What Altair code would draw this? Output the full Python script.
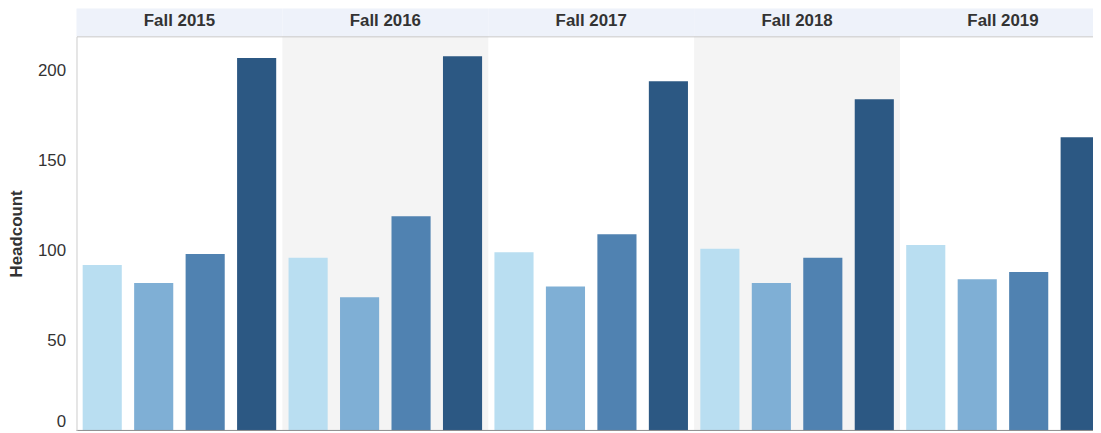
import altair as alt
import pandas as pd

years = ["Fall 2015", "Fall 2016", "Fall 2017", "Fall 2018", "Fall 2019"]
groups = ["Freshman", "Sophomore", "Junior", "Senior"]
freshman = [92, 96, 99, 101, 103]
sophomore = [82, 74, 80, 82, 84]
junior = [98, 119, 109, 96, 88]
senior = [207, 208, 194, 184, 163]
colors = ["#B9DEF1", "#7FAFD5", "#5082B1", "#2C5883"]

rows = []
for i, yr in enumerate(years):
    for g, vals in zip(groups, [freshman, sophomore, junior, senior]):
        rows.append({"year": yr, "group": g, "headcount": vals[i]})
df = pd.DataFrame(rows)
bg = pd.DataFrame({"year": years, "shade": [i % 2 == 1 for i in range(len(years))]})

W, H = 1024, 397
FONT = "Liberation Sans"

x_scale = alt.Scale(domain=years, range=[0, 1037], paddingInner=0, paddingOuter=0)
x_axis = alt.Axis(orient="top", title=None, ticks=False, labelPadding=7, labelFontSize=17,
                  labelFontWeight="bold", labelColor="#333333", domainColor="#C8C8C8",
                  labelAngle=0, zindex=1)
x_enc = alt.X("year:N", sort=years, scale=x_scale, axis=x_axis)

y_scale = alt.Scale(domain=[0, 219], nice=False)
y_axis = alt.Axis(title="Headcount", grid=False, ticks=False, labelPadding=11, labelFontSize=17,
                  labelColor="#333333", titleFontSize=17, titleFontWeight="bold",
                  titleColor="#333333", titlePadding=12, domainColor="#CCCCCC",
                  values=[0, 50, 100, 150, 200], labelFlush=True, zindex=1)

background = alt.Chart(bg).transform_filter("datum.shade").mark_rect(color="#F4F4F4").encode(x=x_enc)

header = alt.Chart(bg).mark_rect(color="#EEF2FA", clip=False).encode(
    x=x_enc, y=alt.value(-28), y2=alt.value(0)
)

bars = alt.Chart(df).mark_bar().encode(
    x=x_enc,
    xOffset=alt.XOffset("group:N", sort=groups,
                        scale=alt.Scale(domain=groups, paddingInner=0.24, paddingOuter=0.12)),
    y=alt.Y("headcount:Q", scale=y_scale, axis=y_axis),
    color=alt.Color("group:N", sort=groups, scale=alt.Scale(domain=groups, range=colors), legend=None),
)

baseline = alt.Chart(pd.DataFrame({"v": [0]})).mark_rule(color="#8C8C8C").encode(
    y=alt.Y("v:Q", scale=y_scale)
)

chart = alt.layer(background, header, bars, baseline).properties(
    width=W, height=H,
    autosize=alt.AutoSizeParams(type="none"),
    padding={"left": 69, "top": 27, "right": 0, "bottom": 1},
).configure(font=FONT).configure_view(strokeWidth=0)

chart.save("out.html", embed_options={"renderer": "svg", "actions": False})
